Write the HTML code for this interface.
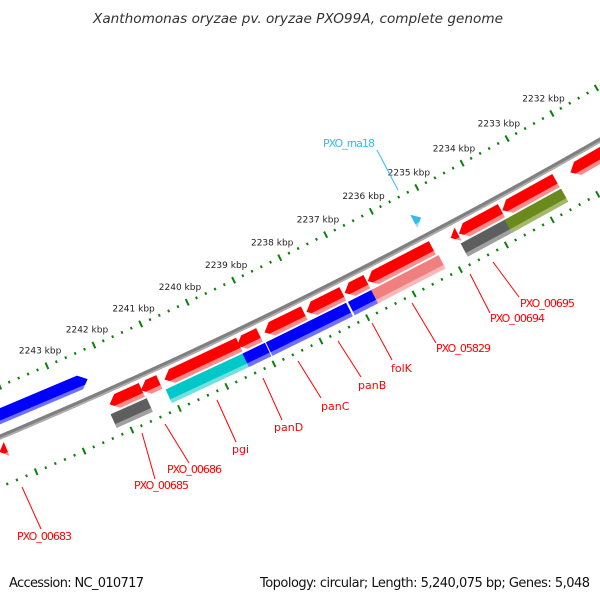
<!DOCTYPE html>
<html><head><meta charset="utf-8"><style>
html,body{margin:0;padding:0;background:#fff;}
svg{display:block;font-family:"DejaVu Sans","Liberation Sans",sans-serif;}
.lbl{fill:#ff0000;font-size:11px;}
.ld{stroke:#ff0000;stroke-width:1;}
</style></head><body>
<svg id="map" width="600" height="600" viewBox="0 0 600 600" xmlns="http://www.w3.org/2000/svg">
<defs id="defs"></defs>
<rect x="0" y="0" width="600" height="600" fill="#fff"/>
<text x="298" y="23" text-anchor="middle" font-size="13" font-style="italic" fill="#333" textLength="410" lengthAdjust="spacingAndGlyphs">Xanthomonas oryzae pv. oryzae PXO99A, complete genome</text>
<g id="ticks"></g>
<g id="backbone"></g>
<g id="feats"></g>
<g>
<line class="ld" x1="22" y1="487" x2="41" y2="529"/><text class="lbl" x="17" y="540" textLength="55">PXO_00683</text>
<line class="ld" x1="142" y1="433" x2="155" y2="479"/><text class="lbl" x="134" y="489" textLength="55">PXO_00685</text>
<line class="ld" x1="165" y1="424" x2="189" y2="463"/><text class="lbl" x="167" y="473" textLength="55">PXO_00686</text>
<line class="ld" x1="217" y1="400" x2="236" y2="442"/><text class="lbl" x="232" y="453">pgi</text>
<line class="ld" x1="263" y1="378" x2="282" y2="420"/><text class="lbl" x="274" y="431">panD</text>
<line class="ld" x1="298" y1="361" x2="321" y2="398"/><text class="lbl" x="321" y="410">panC</text>
<line class="ld" x1="338" y1="341" x2="361" y2="377"/><text class="lbl" x="358" y="389">panB</text>
<line class="ld" x1="372" y1="323" x2="392" y2="360"/><text class="lbl" x="391" y="372">folK</text>
<line class="ld" x1="412" y1="303" x2="436" y2="343"/><text class="lbl" x="436" y="352" textLength="55">PXO_05829</text>
<line class="ld" x1="470" y1="274" x2="490" y2="313"/><text class="lbl" x="490" y="322" textLength="55">PXO_00694</text>
<line class="ld" x1="493" y1="262" x2="519" y2="297"/><text class="lbl" x="520" y="307" textLength="55">PXO_00695</text>
<line x1="377" y1="150" x2="398" y2="190" stroke="#33bbee" stroke-width="1"/><text x="323" y="147" font-size="11" fill="#33bbee" textLength="52">PXO_rna18</text>
</g>
<text x="9" y="587" font-size="13" fill="#111" textLength="135">Accession: NC_010717</text>
<text x="590" y="587" font-size="13" fill="#111" text-anchor="end" textLength="330">Topology: circular; Length: 5,240,075 bp; Genes: 5,048</text>
</svg>
<script>
// ---- data ----
const tickKbp = [2232,2233,2234,2235,2236,2237,2238,2239,2240,2241,2242,2243];
const tickLabels = ["2232 kbp","2233 kbp","2234 kbp","2235 kbp","2236 kbp","2237 kbp","2238 kbp","2239 kbp","2240 kbp","2241 kbp","2242 kbp","2243 kbp"];
const featStart = [2242.38, 2235.20, 2241.51, 2241.14, 2239.44, 2239.01, 2238.05, 2237.22, 2236.70, 2235.28, 2234.72, 2233.77, 2232.57, 2230.50, 2244.35, 2241.49, 2239.46, 2238.98, 2237.24, 2236.65, 2235.24, 2233.76, 2232.56];
const featEnd   = [2246.00, 2235.36, 2242.19, 2241.53, 2241.03, 2239.49, 2238.90, 2238.00, 2237.18, 2236.68, 2234.88, 2234.70, 2233.75, 2232.25, 2244.50, 2242.25, 2241.09, 2239.46, 2238.96, 2237.20, 2236.70, 2234.76, 2233.80];
const featRow   = [0,0,1,1,1,1,1,1,1,1,1,1,1,1,1,2,2,2,2,2,2,2,2];
const featDir   = [-1,-1,1,1,1,1,1,1,1,1,1,1,1,1,1,0,0,0,0,0,0,0,0];
const featColor = ["blue","cyan2","red","red","red","red","red","red","red","red","red","red","red","red","red","gray","cyan","blue","blue","blue","pink","gray","olive"];
const featName  = ["pxo-00683","pxo-rna18","pxo-00685","pxo-00686","pgi","gene-small","pand","panc","panb","folk","gene-tiny","pxo-00694","pxo-00695-gene","gene-right","gene-left","cds-pxo-00685","cds-pgi","cds-pgi-b","cds-panc","cds-panb","cds-pxo-05829","cds-pxo-00694","cds-pxo-00695"];
// ---- geometry ----
const CX = -2108.7, CY = -4577.6;
const K0 = 2243, A0 = 66.44, DEG_PER_KBP = 0.5455;
const rowR = [[5414,5429],[5446,5461],[5463,5478]];
const R_BACK = 5440, R_TOP = 5393, R_BOT = 5486;
const PAL = {red:["#ff0000","#ff8a8a"],blue:["#0000ff","#7070ff"],cyan:["#00c8c8","#70e0e0"],cyan2:["#33bbee","#99ddff"],gray:["#5e5e5e","#a0a0a0"],olive:["#6b8a1e","#a4b86a"],pink:["#f08080","#f8b8b8"]};
const NS = "http://www.w3.org/2000/svg";
function ang(k){ return (A0 + (k-K0)*DEG_PER_KBP) * Math.PI/180; }
function pt(k,r){ const a=ang(k); return [CX + r*Math.cos(a), CY + r*Math.sin(a)]; }
function mk(tag, parent){ const e=document.createElementNS(NS,tag); parent.appendChild(e); return e; }
function f(p){ return p[0].toFixed(2)+","+p[1].toFixed(2); }

// ticks
const tg = document.getElementById("ticks");
[R_TOP, R_BOT].forEach(function(R){
  for (let i=0;i<=70;i++){
    const k = 2231 + i*0.2;
    const major = (i%5===0);
    const h = major ? 3.5 : 1.3;
    const a = pt(k,R-h), b = pt(k,R+h);
    const ln = mk("line", tg);
    
    
    ln.setAttribute("x1",a[0]); ln.setAttribute("y1",a[1]); ln.setAttribute("x2",b[0]); ln.setAttribute("y2",b[1]);
    ln.setAttribute("stroke","#0a820a"); ln.setAttribute("stroke-width", 2);
  }
});
tickKbp.forEach(function(k,i){
  const p = pt(k, R_TOP-17);
  const t = mk("text", tg);
  
  
  t.setAttribute("x",p[0]); t.setAttribute("y",p[1]+3);
  t.setAttribute("text-anchor","middle"); t.setAttribute("font-size","9"); t.setAttribute("fill","#222");
  t.textContent = tickLabels[i];
});

// backbone
const bg = document.getElementById("backbone");
function arcPath(r){ let d=""; for(let k=2246;k>=2229;k-=0.25){ const p=pt(k,r); d+=(d?"L":"M")+f(p); } return d; }
const bb1 = mk("path", bg);


bb1.setAttribute("d", arcPath(R_BACK)); bb1.setAttribute("fill","none"); bb1.setAttribute("stroke","#808080"); bb1.setAttribute("stroke-width","5");
const bb2 = mk("path", bg);


bb2.setAttribute("d", arcPath(R_BACK+1.5)); bb2.setAttribute("fill","none"); bb2.setAttribute("stroke","#b0b0b0"); bb2.setAttribute("stroke-width","1.5");

// features
const fg = document.getElementById("feats");
const defs = document.getElementById("defs");
const HEAD = 0.16;
featStart.forEach(function(s,i){
  const e = featEnd[i], r0 = rowR[featRow[i]][0], r1 = rowR[featRow[i]][1], rm=(r0+r1)/2, dir=featDir[i];
  let pts = [];
  if (dir === 0){
    pts = [pt(s,r0),pt(e,r0),pt(e,r1),pt(s,r1)];
  } else if (dir === 1){
    const hb = Math.max(s, e-HEAD);
    pts = [pt(s,r0),pt(hb,r0),pt(e,rm),pt(hb,r1),pt(s,r1)];
  } else {
    const hb = Math.min(e, s+HEAD);
    pts = [pt(e,r0),pt(hb,r0),pt(s,rm),pt(hb,r1),pt(e,r1)];
  }
  const km = (s+e)/2, gi = pt(km,r0), go = pt(km,r1);
  const gr = mk("linearGradient", defs);
  gr.setAttribute("id","g"+i); gr.setAttribute("gradientUnits","userSpaceOnUse");
  gr.setAttribute("x1",gi[0]); gr.setAttribute("y1",gi[1]); gr.setAttribute("x2",go[0]); gr.setAttribute("y2",go[1]);
  const c = PAL[featColor[i]];
  [[0,c[0]],[0.7,c[0]],[0.74,c[1]],[1,c[1]]].forEach(function(st){ const o=mk("stop",gr); o.setAttribute("offset",st[0]); o.setAttribute("stop-color",st[1]); });
  const pg = mk("polygon", fg);
  
  
  pg.setAttribute("points", pts.map(f).join(" "));
  pg.setAttribute("fill","url(#g"+i+")");
});
</script>
</body></html>
